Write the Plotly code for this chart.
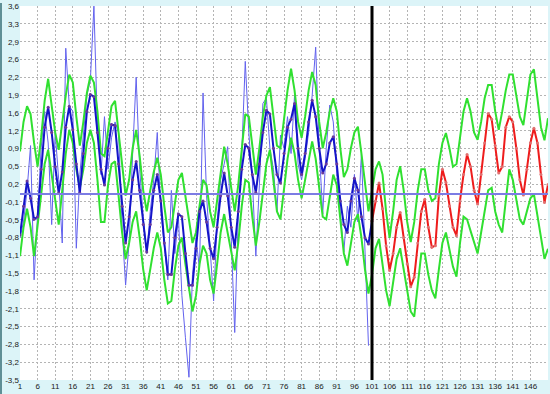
import numpy as np
import plotly.graph_objects as go

# ---------------- data ----------------
x_hist = list(range(1, 101))          # observed periods
x_fit = list(range(1, 102))           # fitted periods
x_fc = list(range(101, 152))          # forecast periods
x_band = list(range(1, 152))          # band periods

actual = [-0.8, -0.5, 0.1, 0.95, -1.6, -0.3, 0.9, 1.6, 1.0, -0.55,
          1.2, 0.3, -0.9, 2.8, 1.7, 1.6, -1.0, 0.4, 1.2, 1.9,
          2.2, 3.6, 1.3, 0.4, 1.5, 0.5, 1.1, 1.4, 1.2, -0.6,
          -1.7, -0.9, 0.8, 2.25, 0.5, -0.4, -1.1, -0.3, 0.3, 1.2,
          -0.3, -1.0, -1.6, 0.1, -1.1, -0.4, -1.9, -2.7, -3.45, -1.5,
          -0.8, -1.4, 1.95, 0.0, -1.0, -2.0, -0.5, 0.3, 0.6, 0.93,
          -0.8, -2.6, -0.4, 0.8, 2.55, 1.2, 0.3, -1.15, 0.2, 1.75,
          1.85, 0.9, 0.5, -0.3, 1.15, 0.9, 1.5, 0.8, 1.9, 0.6,
          0.3, 0.7, 1.2, 1.9, 2.82, 0.9, -0.35, 0.9, 1.72, 1.4,
          0.4, -0.3, -1.07, -0.2, -0.6, 0.4, -0.5, 0.8, -1.2, -2.85]

fitted = [-0.75, -0.2, 0.28, -0.05, -0.45, -0.4, 0.5, 1.3, 1.68, 1.2,
          0.55, 0.05, 0.45, 1.3, 1.7, 1.25, 0.6, 0.05, 0.8, 1.6,
          1.92, 1.88, 1.2, 0.5, 0.2, 0.9, 1.35, 1.33, 0.6, -0.2,
          -0.9, -0.4, 0.3, 0.65, 0.1, -0.55, -1.07, -0.55, 0.1, 0.4,
          -0.1, -0.9, -1.5, -1.5, -0.8, -0.35, -0.4, -1.1, -1.7, -1.7,
          -1.0, -0.3, -0.1, -0.5, -1.0, -1.2, -0.6, 0.0, 0.43, 0.0,
          -0.6, -0.98, -0.3, 0.5, 0.97, 0.9, 0.4, 0.06, 0.6, 1.2,
          1.62, 1.55, 0.9, 0.4, 0.24, 0.8, 1.3, 1.45, 1.75, 0.9,
          0.4, 0.8, 1.4, 1.81, 1.5, 0.9, 0.43, 0.6, 1.0, 1.12,
          0.6, -0.1, -0.55, -0.7, -0.1, 0.33, 0.1, -0.4, -0.8, -0.92,
          -0.48]

forecast = [-0.48, -0.1, 0.24, -0.25, -0.95, -1.42, -1.1, -0.6, -0.32, -0.8,
            -1.3, -1.73, -1.55, -0.9, -0.3, -0.07, -0.6, -0.98, -0.95, 0.0,
            0.5, 0.25, -0.2, -0.6, -0.76, -0.1, 0.4, 0.78, 0.55, 0.1,
            -0.16, 0.4, 1.0, 1.56, 1.45, 0.95, 0.43, 0.55, 1.3, 1.5,
            1.4, 0.9, 0.3, 0.01, 0.5, 1.0, 1.28, 1.0, 0.4, -0.13,
            0.21]

upper = [0.84, 1.4, 1.7, 1.55, 1.0, 0.55, 1.1, 1.8, 2.22, 1.7,
         1.2, 0.87, 1.4, 1.9, 2.3, 2.15, 1.5, 0.95, 1.4, 1.95,
         2.28, 2.15, 1.6, 0.8, 0.75, 1.25, 1.7, 1.8, 1.2, 0.5,
         0.0, 0.3, 0.9, 1.25, 0.75, 0.1, -0.3, 0.1, 0.45, 0.72,
         0.4, -0.2, -0.7, -0.6, -0.1, 0.3, 0.43, 0.0, -0.5, -0.9,
         -0.7, -0.2, 0.3, 0.2, -0.3, -0.6, -0.1, 0.5, 0.93, 0.6,
         0.1, -0.3, 0.2, 0.9, 1.55, 1.5, 0.9, 0.4, 0.9, 1.5,
         1.9, 2.06, 1.5, 0.95, 0.9, 1.5, 2.0, 2.41, 2.0, 1.4,
         1.1, 1.5, 2.0, 2.35, 2.1, 1.4, 0.9, 1.2, 1.6, 1.85,
         1.6, 0.9, 0.35, 0.5, 0.9, 1.2, 1.31, 0.8, 0.2, -0.3,
         0.1, 0.5, 0.65, 0.4, -0.3, -0.8, -0.3, 0.3, 0.56, 0.1,
         -0.5, -0.88, -0.5, 0.1, 0.5, 0.5, 0.1, -0.1, -0.05, 0.6,
         1.0, 1.19, 0.9, 0.55, 0.6, 1.1, 1.6, 1.85, 1.6, 1.2,
         1.06, 1.4, 1.85, 2.1, 2.1, 1.6, 1.25, 1.6, 2.0, 2.3,
         2.3, 1.9, 1.5, 1.34, 1.8, 2.3, 2.4, 1.9, 1.3, 1.05,
         1.47]

lower = [-1.15, -0.6, -0.25, -0.6, -1.15, -0.6, 0.0, 0.6, 0.87, 0.4,
         -0.1, -0.55, 0.1, 0.8, 1.25, 1.0, 0.5, 0.15, 0.5, 1.0,
         1.25, 1.0, 0.3, -0.5, -0.5, 0.2, 0.6, 0.65, 0.0, -0.7,
         -1.2, -0.9, -0.5, -0.3, -0.8, -1.4, -1.8, -1.4, -1.0, -0.7,
         -1.0, -1.6, -2.05, -2.0, -1.4, -0.95, -0.8, -1.3, -1.8, -2.2,
         -1.9, -1.3, -0.95, -1.1, -1.6, -1.86, -1.3, -0.7, -0.35, -0.7,
         -1.1, -1.42, -0.9, -0.2, 0.3, 0.25, -0.4, -0.95, -0.5, 0.1,
         0.6, 0.87, 0.3, -0.3, -0.45, 0.1, 0.7, 1.1, 0.8, 0.3,
         -0.05, 0.3, 0.7, 1.03, 0.7, 0.1, -0.4, -0.45, 0.0, 0.4,
         0.2, -0.5, -1.1, -1.33, -0.9, -0.5, -0.35, -0.8, -1.4, -1.86,
         -1.5, -1.0, -0.82, -1.3, -1.8, -2.1, -1.6, -1.2, -1.0, -1.4,
         -1.8, -2.2, -2.3, -1.7, -1.1, -1.1, -1.5, -1.8, -1.95, -1.4,
         -0.9, -0.7, -1.0, -1.35, -1.54, -0.9, -0.4, -0.45, -0.67, -0.9,
         -1.1, -0.7, -0.3, 0.1, 0.15, -0.3, -0.55, -0.7, -0.1, 0.5,
         0.3, -0.1, -0.45, -0.55, -0.3, -0.05, 0.03, -0.4, -0.8, -1.2,
         -1.01]

mean_level = 0.03
split_x = 101

x_tick_vals = list(range(1, 147, 5))
y_tick_labels = ["-3,5", "-3,2", "-2,8", "-2,5", "-2,1", "-1,8", "-1,5", "-1,1",
                 "-0,8", "-0,5", "-0,1", "0,2", "0,5", "0,9", "1,2", "1,6",
                 "1,9", "2,2", "2,6", "2,9", "3,3", "3,6"]

# ---------------- figure ----------------
W, H = 550, 394
ML, MR, MT, MB = 20, 2, 3, 14
y_min, y_max = -3.5, 3.6
y_tick_vals = np.linspace(y_min, y_max, len(y_tick_labels))
eps = 0.002

fig = go.Figure()

fig.add_trace(go.Scatter(x=x_hist, y=actual, mode="lines",
                         line=dict(color="#6262ee", width=1), hoverinfo="skip"))
fig.add_trace(go.Scatter(x=x_band, y=upper, mode="lines",
                         line=dict(color="#30e030", width=2), hoverinfo="skip"))
fig.add_trace(go.Scatter(x=x_band, y=lower, mode="lines",
                         line=dict(color="#30e030", width=2), hoverinfo="skip"))
fig.add_trace(go.Scatter(x=x_fit, y=fitted, mode="lines+markers",
                         line=dict(color="#1414c8", width=2),
                         marker=dict(color="#6a3a9a", size=3), hoverinfo="skip"))
fig.add_trace(go.Scatter(x=x_fc, y=forecast, mode="lines+markers",
                         line=dict(color="#ee1c1c", width=2),
                         marker=dict(color="#e07070", size=3), hoverinfo="skip"))
fig.add_trace(go.Scatter(x=[x_band[0], x_band[-1]], y=[mean_level, mean_level], mode="lines",
                         line=dict(color="#7c7ce4", width=2), hoverinfo="skip"))
fig.add_trace(go.Scatter(x=[split_x, split_x], y=[y_min - eps, y_max + eps], mode="lines",
                         line=dict(color="#000000", width=3), hoverinfo="skip"))

pw = W - ML - MR
ph = H - MT - MB
fig.add_shape(type="rect", xref="paper", yref="paper",
              x0=-ML / pw, x1=-(ML - 2) / pw, y0=-MB / ph, y1=1 + MT / ph,
              fillcolor="#5f8f96", line=dict(width=0), layer="below")

grid_style = dict(showgrid=True, gridcolor="#b4b4b4", griddash="2px,2px", gridwidth=1,
                  zeroline=False, showline=False, ticks="", ticklen=0,
                  ticklabeloverflow="allow", tickfont=dict(size=8))

fig.update_layout(
    width=W, height=H,
    margin=dict(l=ML, r=MR, t=MT, b=MB),
    paper_bgcolor="#dcf4f8",
    plot_bgcolor="#ffffff",
    showlegend=False,
    font=dict(family="Liberation Sans, Arial, sans-serif", size=8, color="#202020"),
    xaxis=dict(range=[1, 151], tickmode="array", tickvals=x_tick_vals,
               ticktext=[str(v) for v in x_tick_vals], **grid_style),
    yaxis=dict(range=[y_min - eps, y_max + eps], tickmode="array", tickvals=y_tick_vals,
               ticktext=y_tick_labels, **grid_style),
)

fig.write_html("out.html")
